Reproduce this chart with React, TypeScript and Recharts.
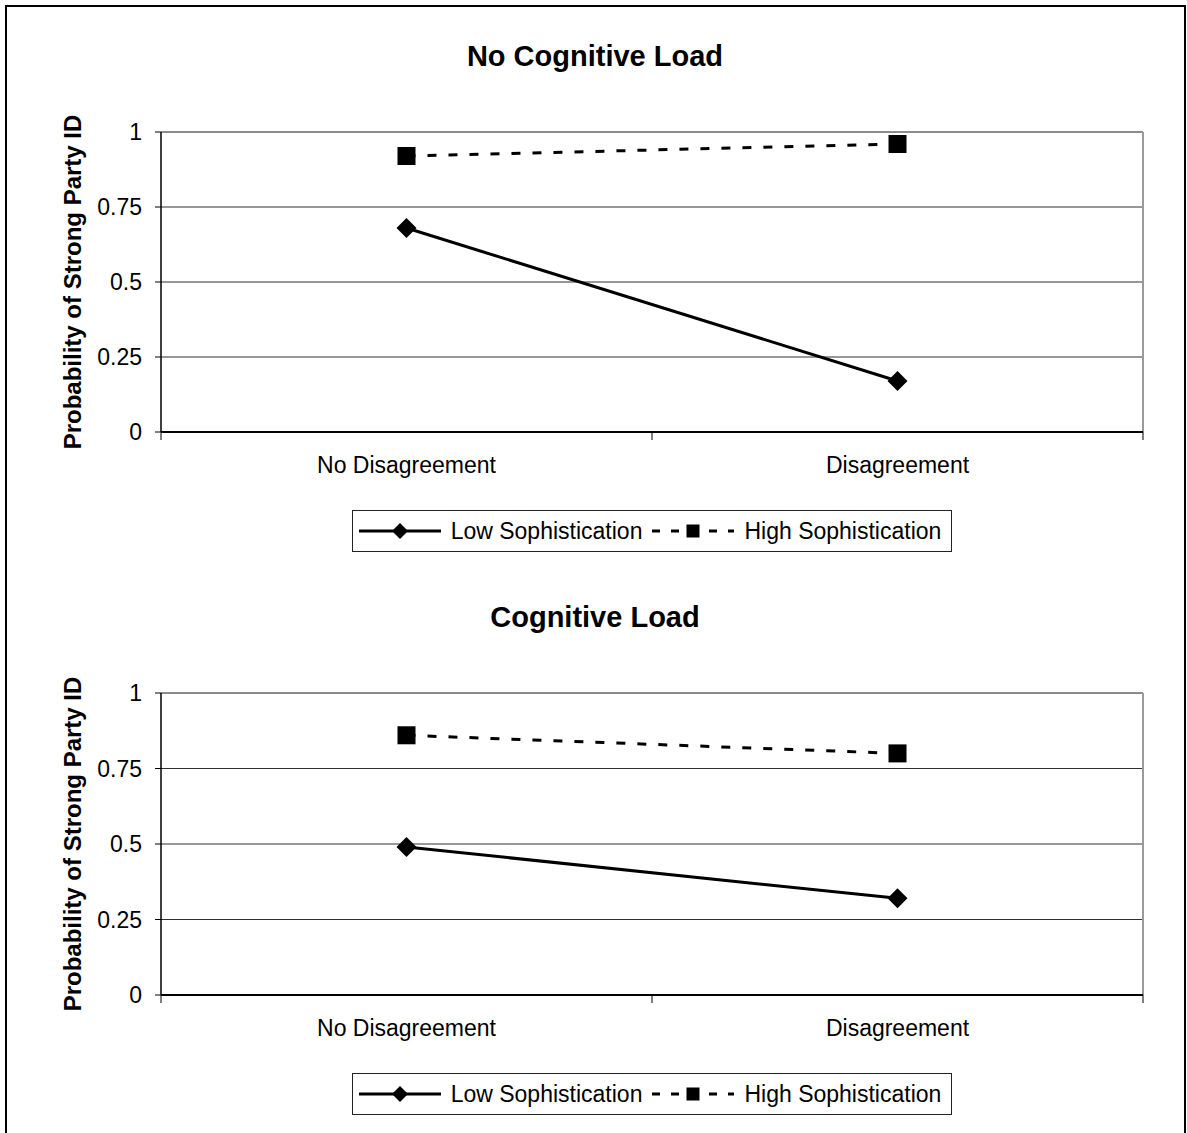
import React from "react";
import {
  LineChart,
  Line,
  XAxis,
  YAxis,
  CartesianGrid,
  ReferenceLine,
  Legend,
} from "recharts";

const categories = ["No Disagreement", "Disagreement"];
const seriesNames = ["Low Sophistication", "High Sophistication"];
const yTicks = [0, 0.25, 0.5, 0.75, 1];

// predicted probabilities, no cognitive load
const noLoadLow = [0.68, 0.17];
const noLoadHigh = [0.92, 0.96];

// predicted probabilities, cognitive load
const loadLow = [0.49, 0.32];
const loadHigh = [0.86, 0.8];

const FONT = '"Liberation Sans", Arial, Helvetica, sans-serif';
const CHART_W = 1187;
const TEXT = 23;

const Diamond = ({ cx, cy, r = 10 }: any) => {
  if (cx == null || cy == null) return <g />;
  return (
    <polygon
      points={`${cx},${cy - r} ${cx + r},${cy} ${cx},${cy + r} ${cx - r},${cy}`}
      fill="#000"
    />
  );
};

const Square = ({ cx, cy, s = 18 }: any) => {
  if (cx == null || cy == null) return <g />;
  return <rect x={cx - s / 2} y={cy - s / 2} width={s} height={s} fill="#000" />;
};

// edges get a short tick, band centres get the category name
const CategoryTick = ({ x, y, payload }: any) => {
  const v = payload.value;
  if (Number.isInteger(v)) {
    return <line x1={x} y1={y} x2={x} y2={y + 8} stroke="#000" strokeWidth={1} />;
  }
  return (
    <text x={x} y={y + 25} dy="0.71em" textAnchor="middle" fill="#000" fontSize={TEXT}>
      {categories[Math.floor(v)]}
    </text>
  );
};

const renderLegend = ({ payload }: any) => {
  // keep the series order rather than the alphabetical one
  const items = [...(payload || [])].sort(
    (a: any, b: any) => seriesNames.indexOf(a.value) - seriesNames.indexOf(b.value)
  );
  return (
    <div style={{ display: "flex", justifyContent: "center" }}>
      <div
        style={{
          display: "flex",
          alignItems: "center",
          height: 40,
          border: "1px solid #222",
          padding: "0 10px 0 5px",
          background: "#fff",
          fontFamily: FONT,
          fontSize: TEXT,
          color: "#000",
        }}
      >
        {items.map((entry: any, i: number) => {
          const dashed = !!entry.payload?.strokeDasharray;
          return (
            <span
              key={`leg-${i}`}
              style={{ display: "flex", alignItems: "center", marginLeft: i ? 9 : 0 }}
            >
              <svg width={84} height={24}>
                <line
                  x1={1}
                  y1={12}
                  x2={83}
                  y2={12}
                  stroke="#000"
                  strokeWidth={3}
                  strokeDasharray={dashed ? "8 11" : undefined}
                />
                {dashed ? <Square cx={42} cy={12} s={13} /> : <Diamond cx={42} cy={12} r={8} />}
              </svg>
              <span style={{ marginLeft: 9 }}>{entry.value}</span>
            </span>
          );
        })}
      </div>
    </div>
  );
};

interface PanelProps {
  title: string;
  low: number[];
  high: number[];
  height: number;
}

function Panel({ title, low, high, height }: PanelProps) {
  const data = categories.map((name, i) => ({
    name,
    pos: i + 0.5,
    low: low[i],
    high: high[i],
  }));
  const xTicks: number[] = [];
  for (let i = 0; i <= categories.length; i++) {
    xTicks.push(i);
    if (i < categories.length) xTicks.push(i + 0.5);
  }

  return (
    <div style={{ position: "relative", width: CHART_W, height }}>
      <div
        style={{
          position: "absolute",
          top: 40,
          left: 0,
          width: 1190,
          textAlign: "center",
          fontWeight: "bold",
          fontSize: 29,
          lineHeight: "32px",
          zIndex: 1,
        }}
      >
        {title}
      </div>
      <LineChart
        width={CHART_W}
        height={height}
        data={data}
        margin={{ top: 132, right: 44, bottom: 9, left: 41 }}
      >
        <CartesianGrid vertical={false} stroke="#303030" />
        <ReferenceLine y={1} stroke="#8c8c8c" strokeWidth={2} />
        <ReferenceLine x={categories.length} stroke="#9a9a9a" strokeWidth={2} />
        <XAxis
          dataKey="pos"
          type="number"
          domain={[0, categories.length]}
          ticks={xTicks}
          interval={0}
          tickLine={false}
          tickSize={0}
          tickMargin={0}
          axisLine={{ stroke: "#000", strokeWidth: 2 }}
          height={78}
          tick={<CategoryTick />}
        />
        <YAxis
          type="number"
          domain={[0, 1]}
          ticks={yTicks}
          width={120}
          tickSize={6}
          tickMargin={13}
          tickLine={{ stroke: "#000" }}
          axisLine={{ stroke: "#000", strokeWidth: 1.5 }}
          tick={{ fill: "#000", fontSize: TEXT }}
          label={{
            value: "Probability of Strong Party ID",
            angle: -90,
            position: "insideLeft",
            offset: 31,
            style: { textAnchor: "middle", fontWeight: "bold", fontSize: 24, fill: "#000" },
          }}
        />
        <Legend
          verticalAlign="bottom"
          content={renderLegend}
          wrapperStyle={{ left: 161, width: 982 }}
        />
        <Line
          name={seriesNames[0]}
          dataKey="low"
          stroke="#000"
          strokeWidth={3}
          dot={(p: any) => <Diamond key={`d-${p.index}`} cx={p.cx} cy={p.cy} />}
          activeDot={false}
          isAnimationActive={false}
        />
        <Line
          name={seriesNames[1]}
          dataKey="high"
          stroke="#000"
          strokeWidth={3}
          strokeDasharray="9 12"
          dot={(p: any) => <Square key={`s-${p.index}`} cx={p.cx} cy={p.cy} />}
          activeDot={false}
          isAnimationActive={false}
        />
      </LineChart>
    </div>
  );
}

export default function App() {
  return (
    <div
      style={{
        position: "absolute",
        left: 0,
        top: 0,
        width: 1187,
        height: 1133,
        overflow: "hidden",
        background: "#fff",
        fontFamily: FONT,
        color: "#000",
      }}
    >
      <div
        style={{
          position: "absolute",
          left: 5,
          top: 5,
          width: 1181,
          height: 1140,
          boxSizing: "border-box",
          borderTop: "2px solid #000",
          borderLeft: "2px solid #000",
          borderRight: "2px solid #000",
        }}
      />
      <div style={{ position: "absolute", left: 0, top: 0 }}>
        <Panel title="No Cognitive Load" low={noLoadLow} high={noLoadHigh} height={561} />
      </div>
      <div style={{ position: "absolute", left: 0, top: 561 }}>
        <Panel title="Cognitive Load" low={loadLow} high={loadHigh} height={563} />
      </div>
    </div>
  );
}
